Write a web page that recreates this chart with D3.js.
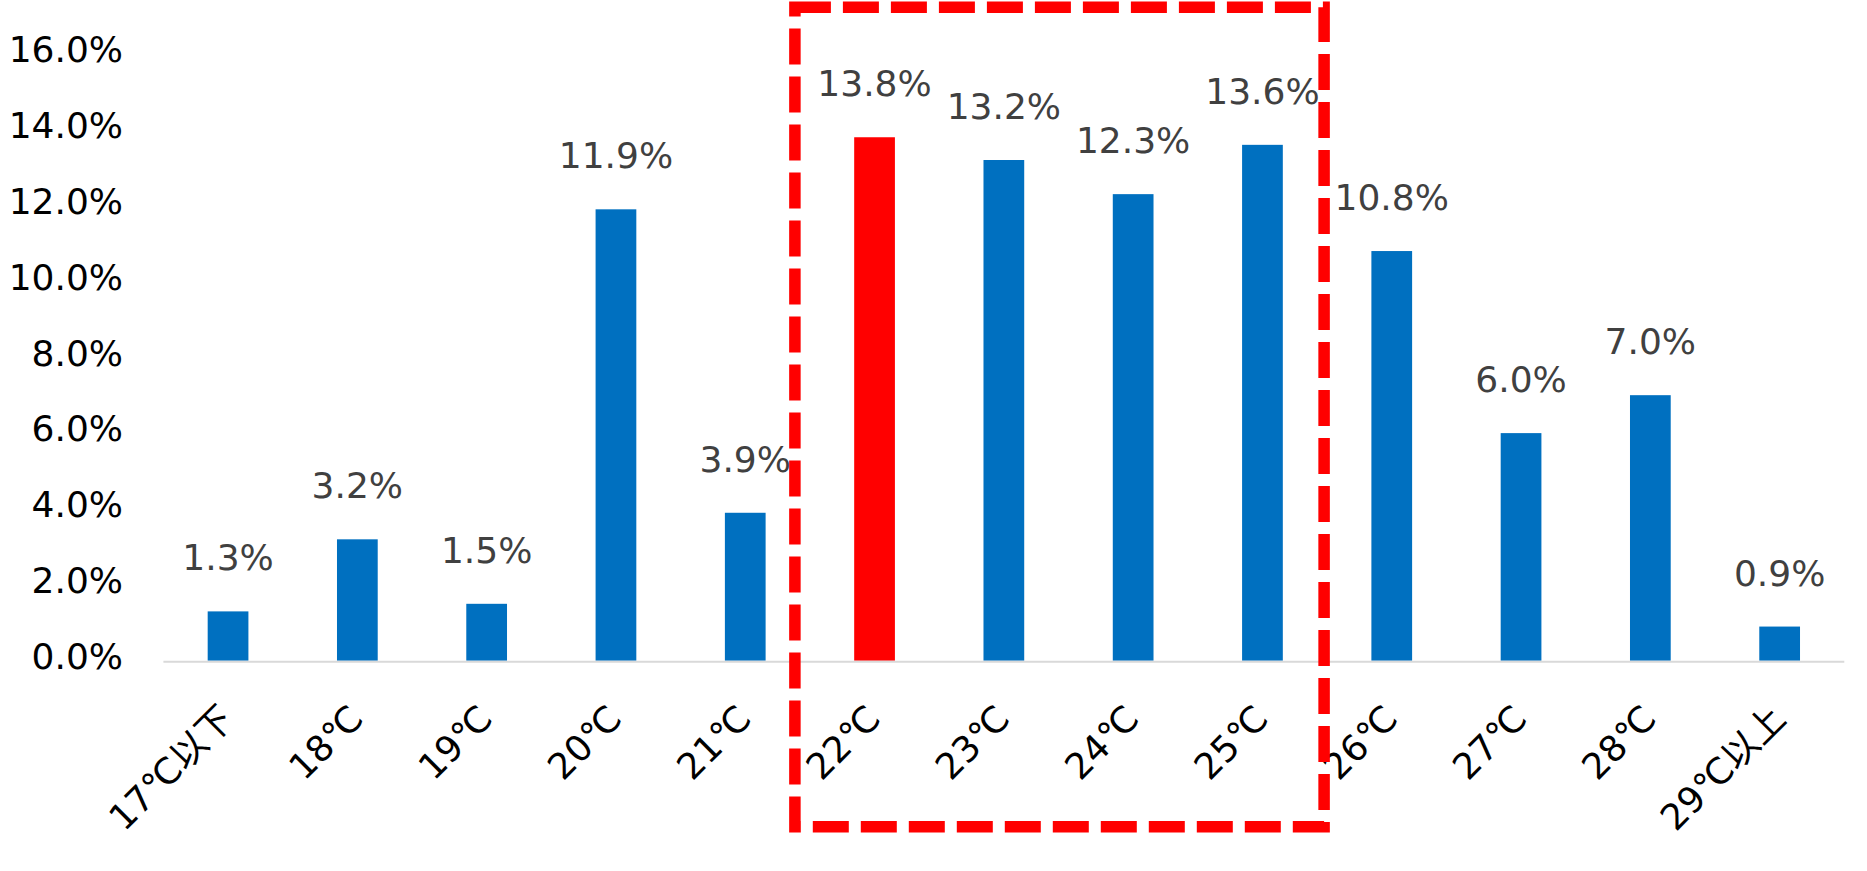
<!DOCTYPE html>
<html>
<head>
<meta charset="utf-8">
<script src="https://cdn.jsdelivr.net/npm/d3@7"></script>
<style>
  html, body { margin: 0; padding: 0; background: #fff; }
  svg { display: block; }
  .tick-label { font-family: "DejaVu Sans", "Noto Sans CJK JP", sans-serif; font-size: 36px; fill: #000; }
  .data-label { font-family: "DejaVu Sans", sans-serif; font-size: 36px; fill: #404040; }
</style>
</head>
<body>
<svg id="chart"></svg>
<script>
const categories = ['17℃以下', '18℃', '19℃', '20℃', '21℃', '22℃', '23℃', '24℃', '25℃', '26℃', '27℃', '28℃', '29℃以上'];
const shares = [1.3, 3.2, 1.5, 11.9, 3.9, 13.8, 13.2, 12.3, 13.6, 10.8, 6.0, 7.0, 0.9];
const yTicks = [0, 2, 4, 6, 8, 10, 12, 14, 16];
const highlighted = ['22℃'];
const boxed = ['22℃', '25℃'];

const width = 1867, height = 871;
const margin = { left: 163.4, right: 22.7, top: 53.8, bottom: 210.3 };

const svg = d3.select('#chart')
  .attr('width', width)
  .attr('height', height);

const xScale = d3.scaleBand()
  .domain(categories)
  .range([margin.left, width - margin.right])
  .paddingInner(0.685)
  .paddingOuter(0.3425);

const yScale = d3.scaleLinear()
  .domain([0, 16])
  .range([height - margin.bottom, margin.top]);

// y axis: labels only, no line
svg.append('g')
  .attr('transform', 'translate(123, 0)')
  .call(d3.axisLeft(yScale).tickValues(yTicks).tickSize(0).tickPadding(0).tickFormat(d => d.toFixed(1) + '%'))
  .call(g => g.select('.domain').remove())
  .selectAll('text')
  .attr('class', 'tick-label')
  .attr('font-size', null)
  .attr('font-family', null)
  .attr('dy', 7.8);

// bars
svg.selectAll('.bar')
  .data(categories)
  .enter()
  .append('rect')
  .attr('class', 'bar')
  .attr('x', d => xScale(d))
  .attr('y', (d, i) => yScale(shares[i]))
  .attr('width', xScale.bandwidth())
  .attr('height', (d, i) => yScale(0) - yScale(shares[i]))
  .attr('fill', d => highlighted.includes(d) ? '#ff0000' : '#0070c0');

// x axis, rotated labels
svg.append('g')
  .attr('transform', `translate(0, ${yScale(0)})`)
  .call(d3.axisBottom(xScale).tickSize(0))
  .call(g => g.select('.domain').remove())
  .selectAll('text')
  .attr('class', 'tick-label')
  .attr('font-size', null)
  .attr('font-family', null)
  .attr('x', 0)
  .attr('y', 0)
  .attr('dy', null)
  .attr('text-anchor', 'end')
  .attr('transform', 'translate(8, 60) rotate(-45)');

svg.append('line')
  .attr('x1', margin.left)
  .attr('x2', width - margin.right)
  .attr('y1', yScale(0) + 1)
  .attr('y2', yScale(0) + 1)
  .attr('stroke', '#d9d9d9')
  .attr('stroke-width', 2);

// data labels
svg.selectAll('.data-label')
  .data(categories)
  .enter()
  .append('text')
  .attr('class', 'data-label')
  .attr('x', d => xScale(d) + xScale.bandwidth() / 2)
  .attr('y', (d, i) => yScale(shares[i]) - 41)
  .attr('text-anchor', 'middle')
  .text((d, i) => shares[i].toFixed(1) + '%');

// dashed highlight box round 22℃–25℃
const gap = (xScale.step() - xScale.bandwidth()) / 2;
const boxLeft = xScale(boxed[0]) - gap - 15;
const boxRight = xScale(boxed[1]) + xScale.bandwidth() + gap - 3;
svg.append('rect')
  .attr('x', boxLeft)
  .attr('y', 7.2)
  .attr('width', boxRight - boxLeft)
  .attr('height', 826.7 - 7.2)
  .attr('fill', 'none')
  .attr('stroke', '#ff0000')
  .attr('stroke-width', 11.5)
  .attr('stroke-dasharray', '36 12');
</script>
</body>
</html>
